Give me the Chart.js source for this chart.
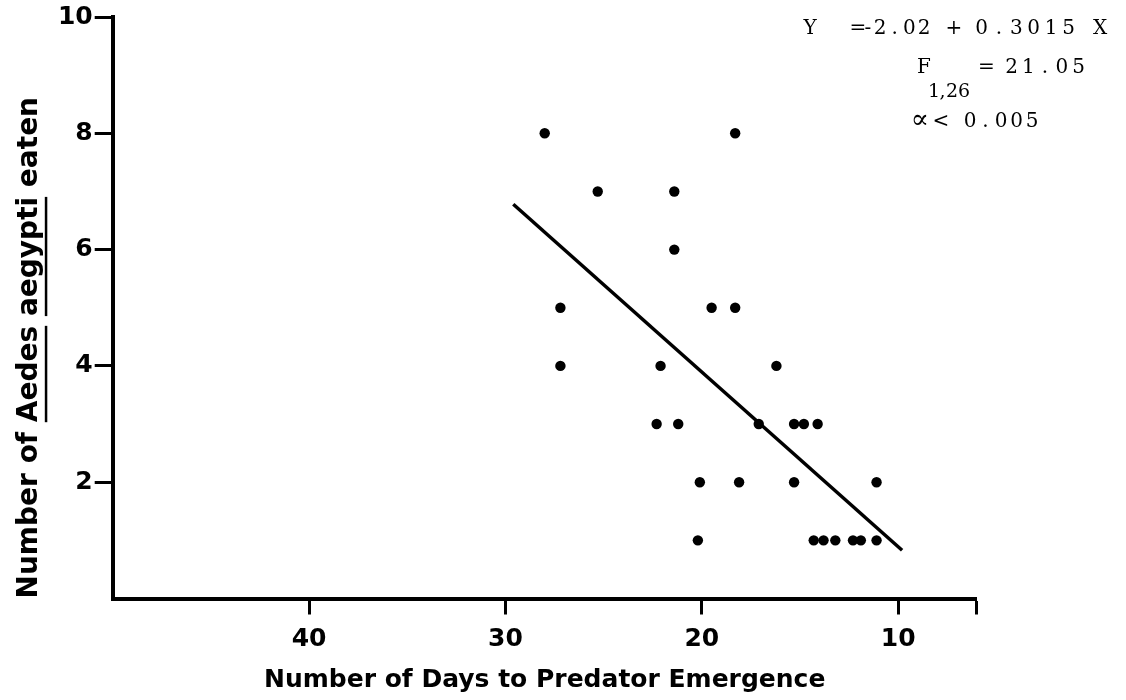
<!DOCTYPE html>
<html>
<head>
<meta charset="utf-8">
<script src="https://cdn.jsdelivr.net/npm/chart.js@4"></script>
<style>
  html, body { margin: 0; padding: 0; background: #fff; }
  #wrap { width: 1126px; height: 700px; }
</style>
</head>
<body>
<div id="wrap"><canvas id="chart"></canvas></div>
<script>
// values
const daysToEmergence = [28.0, 18.3, 25.3, 21.4, 21.4, 27.2, 19.5, 18.3, 27.2, 22.1, 16.2,
  22.3, 21.2, 17.1, 15.3, 14.8, 14.1, 20.1, 18.1, 15.3, 11.1, 20.2,
  14.3, 13.8, 13.2, 12.3, 11.9, 11.1];
const aedesEaten = [8, 8, 7, 7, 6, 5, 5, 5, 4, 4, 4,
  3, 3, 3, 3, 3, 3, 2, 2, 2, 2, 1,
  1, 1, 1, 1, 1, 1];
const fitLineDays = [29.6, 9.8];
const fitLineEaten = [6.78, 0.83];
const xTickValues = [40, 30, 20, 10, 6];
const xTickLabels = ['40', '30', '20', '10', ''];
const yTickValues = [2, 4, 6, 8, 10];

const boldFont = { family: '"DejaVu Sans", sans-serif', weight: 'bold', size: 25 };

// typewriter look: each char centred in its own cell
function drawCells(ctx, text, cx, y, advance) {
  for (let i = 0; i < text.length; i++) {
    ctx.fillText(text[i], cx + i * advance, y);
  }
}

const statsPlugin = {
  id: 'stats',
  afterDraw(chart) {
    const ctx = chart.ctx;
    ctx.save();
    ctx.fillStyle = '#000';
    ctx.textBaseline = 'alphabetic';
    ctx.textAlign = 'center';
    ctx.font = '20px "DejaVu Serif", serif';

    drawCells(ctx, 'Y', 810, 34, 15);
    drawCells(ctx, '=', 858, 34, 15);
    drawCells(ctx, '-', 868, 34, 15);
    drawCells(ctx, '2.02', 880, 34, 14.7);
    drawCells(ctx, '+', 954, 34, 15);
    drawCells(ctx, '0.3015', 981.5, 34, 17.4);
    drawCells(ctx, 'X', 1100, 34, 15);

    drawCells(ctx, 'F', 924, 73, 15);
    drawCells(ctx, '=', 986.5, 73, 15);
    drawCells(ctx, '21.05', 1011.5, 73, 16.75);
    ctx.font = '19px "DejaVu Serif", serif';
    drawCells(ctx, '1,', 934, 97, 8.5);
    drawCells(ctx, '26', 952, 97, 12);

    ctx.font = '20px "DejaVu Serif", serif';
    drawCells(ctx, '<', 941, 127, 15);
    drawCells(ctx, '0.005', 970, 127, 15.5);
    ctx.font = '27px "DejaVu Serif", serif';
    drawCells(ctx, '\u221D', 920, 128, 15);

    // underline the genus / species names in the y title
    const yScale = chart.scales.y;
    const t = yScale.options.title;
    const f = Chart.helpers.toFont(t.font);
    ctx.font = f.string;
    const startY = yScale.bottom;
    const lineX = yScale.left + 14 + f.lineHeight / 2 + 14;
    const pre1 = ctx.measureText('Number of ').width;
    const w1 = ctx.measureText('Aedes').width;
    const pre2 = ctx.measureText('Number of Aedes ').width;
    const w2 = ctx.measureText('aegypti').width;
    ctx.fillRect(lineX, startY - pre1 - w1, 2.5, w1);
    ctx.fillRect(lineX, startY - pre2 - w2, 2.5, w2);
    ctx.restore();
  }
};

const ctx = document.getElementById('chart').getContext('2d');

new Chart(ctx, {
  type: 'scatter',
  data: {
    datasets: [
      {
        label: 'Aedes eaten',
        data: daysToEmergence.map((d, i) => ({ x: d, y: aedesEaten[i] })),
        pointRadius: 5.2,
        pointBorderWidth: 0,
        backgroundColor: '#000',
        borderColor: '#000',
      },
      {
        label: 'Regression',
        data: fitLineDays.map((d, i) => ({ x: d, y: fitLineEaten[i] })),
        showLine: true,
        borderColor: '#000',
        borderWidth: 3.5,
        pointRadius: 0,
        fill: false,
      },
    ],
  },
  options: {
    responsive: true,
    maintainAspectRatio: false,
    animation: false,
    layout: { padding: { left: 0, right: 149.3, top: 15, bottom: 0 } },
    plugins: {
      legend: { display: false },
      tooltip: { enabled: false },
    },
    scales: {
      x: {
        type: 'linear',
        reverse: true,
        min: 6,
        max: 50,
        afterBuildTicks: s => { s.ticks = xTickValues.map(v => ({ value: v })); },
        afterFit: s => { s.height = 101.5; },
        border: { display: true, color: '#000', width: 4 },
        grid: { drawOnChartArea: false, drawTicks: true, tickLength: 16, tickWidth: 3, color: '#000' },
        ticks: {
          callback: v => xTickLabels[xTickValues.indexOf(v)],
          font: boldFont,
          color: '#000',
          padding: 10,
          maxRotation: 0,
          autoSkip: false,
        },
        title: {
          display: true,
          text: 'Number of Days to Predator Emergence',
          font: boldFont,
          color: '#000',
          padding: { top: 0, bottom: 5 },
        },
      },
      y: {
        type: 'linear',
        min: 0,
        max: 10,
        afterBuildTicks: s => { s.ticks = yTickValues.map(v => ({ value: v })); },
        afterFit: s => { s.width = 112.7; },
        border: { display: true, color: '#000', width: 4 },
        grid: { drawOnChartArea: false, drawTicks: true, tickLength: 18, tickWidth: 3, color: '#000' },
        ticks: { font: boldFont, color: '#000', padding: 2 },
        title: {
          display: true,
          text: 'Number of Aedes aegypti eaten',
          align: 'start',
          font: { family: '"DejaVu Sans", sans-serif', weight: 'bold', size: 28 },
          color: '#000',
          padding: { top: 13, bottom: 0 },
        },
      },
    },
  },
  plugins: [statsPlugin],
});
</script>
</body>
</html>
